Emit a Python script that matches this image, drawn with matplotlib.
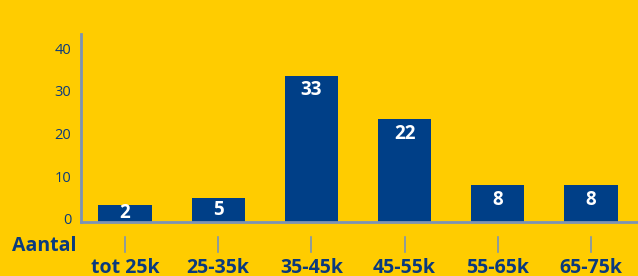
import matplotlib
matplotlib.use("Agg")
import matplotlib.pyplot as plt
from matplotlib.transforms import blended_transform_factory, ScaledTranslation

categories = ["tot 25k", "25-35k", "35-45k", "45-55k", "55-65k", "65-75k"]
bar_heights = [4.0, 5.6, 34.2, 24.1, 8.65, 8.65]
bar_labels = ["2", "5", "33", "22", "8", "8"]
y_ticks = [0, 10, 20, 30, 40]
row_label = "Aantal"

BG = "#FFCC00"
BAR = "#003F87"
TXT = "#0A3A7E"
AX = "#7C93B5"

W, H = 638, 276
fig = plt.figure(figsize=(W / 100, H / 100), dpi=100, facecolor=BG)
left, right, top, bottom = 81, 638, 34, 222
ax = fig.add_axes([left / W, 1 - bottom / H, (right - left) / W, (bottom - top) / H])
ax.set_facecolor(BG)

x = list(range(len(categories)))
ax.bar(x, bar_heights, width=0.57, color=BAR, zorder=2)

pxu = (bottom - top) / 44.0
ax.set_ylim(0, 44.0)
ax.set_xlim(-0.472, 5.504)

for xi, h, lab in zip(x, bar_heights, bar_labels):
    yc = max(h - 14.5 / pxu, h / 2)
    ax.text(xi, yc, lab, ha="center", va="center", color="white",
            fontsize=13.5, fontweight="bold", family="Open Sans", zorder=3)

for s in ["top", "right"]:
    ax.spines[s].set_visible(False)
for s in ["left", "bottom"]:
    ax.spines[s].set_color(AX)
    ax.spines[s].set_linewidth(2)

ax.set_yticks(y_ticks)
ax.set_yticklabels([str(v) for v in y_ticks], family="Open Sans", fontsize=10.5, color=TXT)
ax.tick_params(axis="y", length=0, pad=7)
shift = ScaledTranslation(0, 3 / 100, fig.dpi_scale_trans)
for lbl in ax.get_yticklabels():
    lbl.set_transform(lbl.get_transform() + shift)
ax.set_xticks(x)
ax.set_xticklabels([])
ax.tick_params(axis="x", length=0)

trans = blended_transform_factory(ax.transData, ax.transAxes)
ah = bottom - top
for xi, c in zip(x, categories):
    ax.plot([xi, xi], [-(237 - bottom) / ah, -(252 - bottom) / ah], color=AX,
            lw=1.2, transform=trans, clip_on=False)
    ax.text(xi, -(268 - bottom) / ah, c, transform=trans, ha="center", va="center",
            family="Open Sans", fontweight="bold", fontsize=14, color=TXT)

fig.text(12 / W, 1 - 246 / H, row_label, ha="left", va="center",
         family="Open Sans", fontweight="bold", fontsize=14, color=TXT)

fig.savefig("out.png", dpi=100, facecolor=BG)
